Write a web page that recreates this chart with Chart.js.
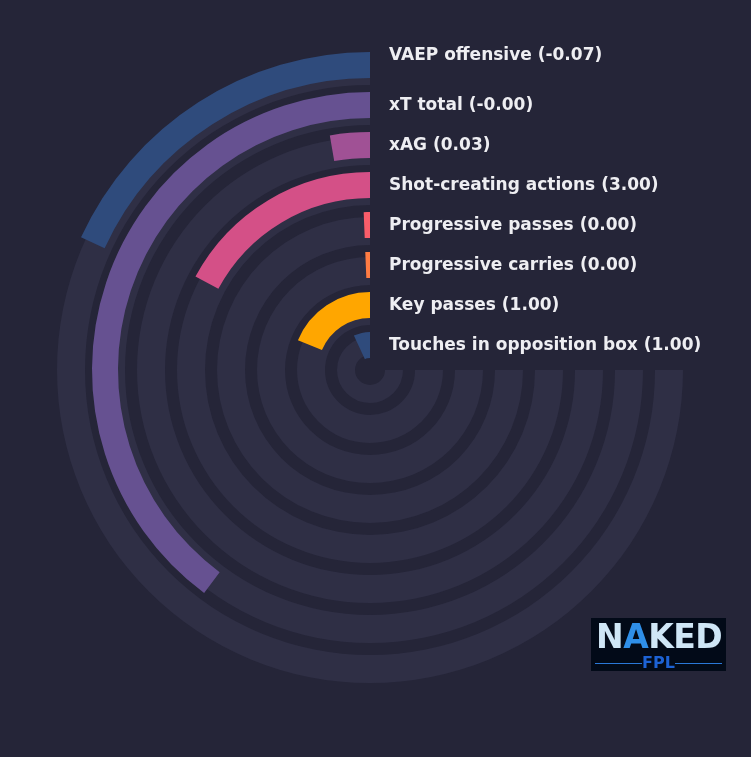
<!DOCTYPE html>
<html>
<head>
<meta charset="utf-8">
<script src="https://cdn.jsdelivr.net/npm/chart.js@4/dist/chart.umd.min.js"></script>
<style>
  html, body { margin: 0; padding: 0; background: #252538; }
  #wrap { position: relative; width: 751px; height: 757px; overflow: hidden; background: #252538; }
  #wrap canvas { position: absolute; left: 0; top: 0; }
  #logo { position: absolute; left: 591px; top: 618px; width: 135px; height: 53px; background: #020a18; font-family: "DejaVu Sans", sans-serif; }
  #logo .big { position: absolute; left: 5px; top: 0px; font-size: 33px; font-weight: bold; color: #cfe6f6; letter-spacing: -0.5px; line-height: 38px; }
  #logo .big span { color: #2f8fe8; }
  #logo .small { position: absolute; left: 0; width: 135px; top: 37px; text-align: center; font-size: 16px; font-weight: bold; color: #1d62d4; line-height: 16px; }
  #logo .line { position: absolute; top: 45px; height: 1px; background: #2a78d8; width: 47px; }
</style>
</head>
<body>
<div id="wrap">
  <canvas id="tracks" width="740" height="740"></canvas>
  <canvas id="bars" width="740" height="740"></canvas>
  <div id="logo">
    <div class="big">N<span>A</span>KED</div>
    <div class="line" style="left:4px"></div>
    <div class="small">FPL</div>
    <div class="line" style="left:84px"></div>
  </div>
</div>
<script>
const metricNames = ["VAEP offensive", "xT total", "xAG", "Shot-creating actions", "Progressive passes", "Progressive carries", "Key passes", "Touches in opposition box"];
const metricValues = [-0.07, -0.004, 0.03, 3.00, 0.00, 0.00, 1.00, 1.00];
// share of the 270 degree track filled by each bar
const barShare = [0.242, 0.531, 0.036, 0.229, 0.0085, 0.0085, 0.25, 0.093];
const barColors = ["#2f4b7c", "#665191", "#a05195", "#d45087", "#f95d6a", "#ff7c43", "#ffa600", "#2f4b7c"];

const TRACK = "#2f2f45";

function ringSets(n, ringW, gapW, lastW, fill) {
  const sets = [];
  for (let i = 0; i < n; i++) {
    sets.push(fill(i, i === n - 1 ? lastW : ringW));
    if (i < n - 1) sets.push({ data: [1], backgroundColor: ["rgba(0,0,0,0)"], borderWidth: 0, weight: gapW });
  }
  return sets;
}

const baseOpts = {
  responsive: false,
  animation: false,
  events: [],
  rotation: 90,
  circumference: 270,
  layout: { padding: 0 },
  elements: { arc: { borderWidth: 0 } },
  plugins: { legend: { display: false }, tooltip: { enabled: false } }
};

// background tracks
new Chart(document.getElementById("tracks"), {
  type: "doughnut",
  data: {
    datasets: ringSets(metricNames.length, 28, 12, 18, (i, w) => ({
      data: [1], backgroundColor: [TRACK], borderWidth: 0, weight: w
    }))
  },
  options: { ...baseOpts, radius: 313, cutout: (15 / 313 * 100) + "%" }
});

const labelPlugin = {
  id: "labelsKanan",
  afterDraw(chart) {
    const ctx = chart.ctx;
    ctx.save();
    ctx.font = "bold 17px 'DejaVu Sans', sans-serif";
    ctx.fillStyle = "#eeeef2";
    ctx.textAlign = "left";
    ctx.textBaseline = "middle";
    metricNames.forEach((nama, i) => {
      const arc = chart.getDatasetMeta(i * 2).data[1];
      const mid = (arc.outerRadius + arc.innerRadius) / 2;
      let y = arc.y - mid + 1;
      if (i === 0) y -= 10;
      ctx.fillText(`${nama} (${metricValues[i].toFixed(2)})`, arc.x + 19, y);
    });
    ctx.restore();
  }
};

// bars: transparent rest first (3 o'clock clockwise), coloured bar ends at 12 o'clock
new Chart(document.getElementById("bars"), {
  type: "doughnut",
  data: {
    datasets: ringSets(metricNames.length, 26, 14, 26, (i, w) => ({
      data: [1 - barShare[i], barShare[i]],
      backgroundColor: ["rgba(0,0,0,0)", barColors[i]],
      borderWidth: 0,
      weight: w
    }))
  },
  options: { ...baseOpts, radius: 318, cutout: (12 / 318 * 100) + "%" },
  plugins: [labelPlugin]
});
</script>
</body>
</html>
